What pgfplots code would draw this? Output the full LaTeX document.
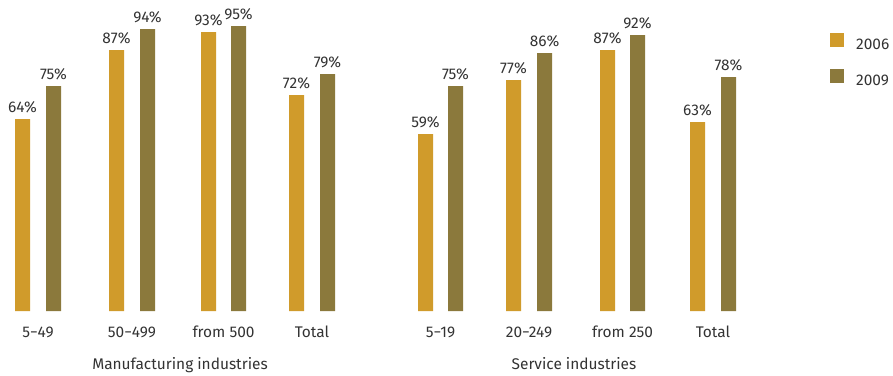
\documentclass[border=0pt]{standalone}
\usepackage{fontspec}
\setmainfont{Fira Sans}
\usepackage{pgfplots}
\pgfplotsset{compat=1.18}
\definecolor{cA}{HTML}{D09B2B}
\definecolor{cB}{HTML}{8B793C}
\definecolor{txt}{HTML}{333333}
\newcommand{\fs}{\fontsize{15.5}{17}\selectfont}
\begin{document}
\begin{tikzpicture}
\begin{axis}[
 scale only axis, width=893bp, height=375bp,
 xmin=0, xmax=893, ymin=-21.3333, ymax=103.6667,
 /pgf/number format/assume math mode=true,
 axis line style={draw=none},
 major tick length=0pt,
 ytick=\empty,
 xtick={38,132,223.5,312,440.5,529,622.5,713},
 xticklabels={5−49,50−499,from 500,Total,5−19,20−249,from 250,Total},
 xticklabel style={anchor=base, yshift=37.3bp, font=\fs, text=txt},
 ybar, bar width=15bp, bar shift=0pt,
 clip=false,
 nodes near coords={\pgfmathprintnumber{\pgfplotspointmeta}\%},
 every node near coord/.append style={font=\fs, text=txt, inner sep=0pt, yshift=6bp, anchor=south},
 legend style={draw=none, fill=none, at={(axis cs:830,92.67)}, anchor=north west, inner sep=0pt, row sep=16bp, font=\fs, text=txt,
   /tikz/every odd column/.append style={column sep=10bp}},
 legend cell align=left,
 legend image code/.code={\fill[#1] (0bp,-2.2bp) rectangle (14bp,11.8bp);},
]
\addplot[fill=cA, draw=none] coordinates {(22.5,64) (116.5,87) (208.5,93) (296.5,72) (425.5,59) (513.5,77) (607.5,87) (697.5,63)};
\addplot[fill=cB, draw=none] coordinates {(53.5,75) (147.5,94) (238.5,95) (327.5,79) (455.5,75) (544.5,86) (637.5,92) (728.5,78)};
\legend{2006,2009}
\node[anchor=base, font=\fs, text=txt] at (axis cs:180,-19.33) {Manufacturing industries};
\node[anchor=base, font=\fs, text=txt] at (axis cs:574,-19.33) {Service industries};
\end{axis}
\end{tikzpicture}
\end{document}
